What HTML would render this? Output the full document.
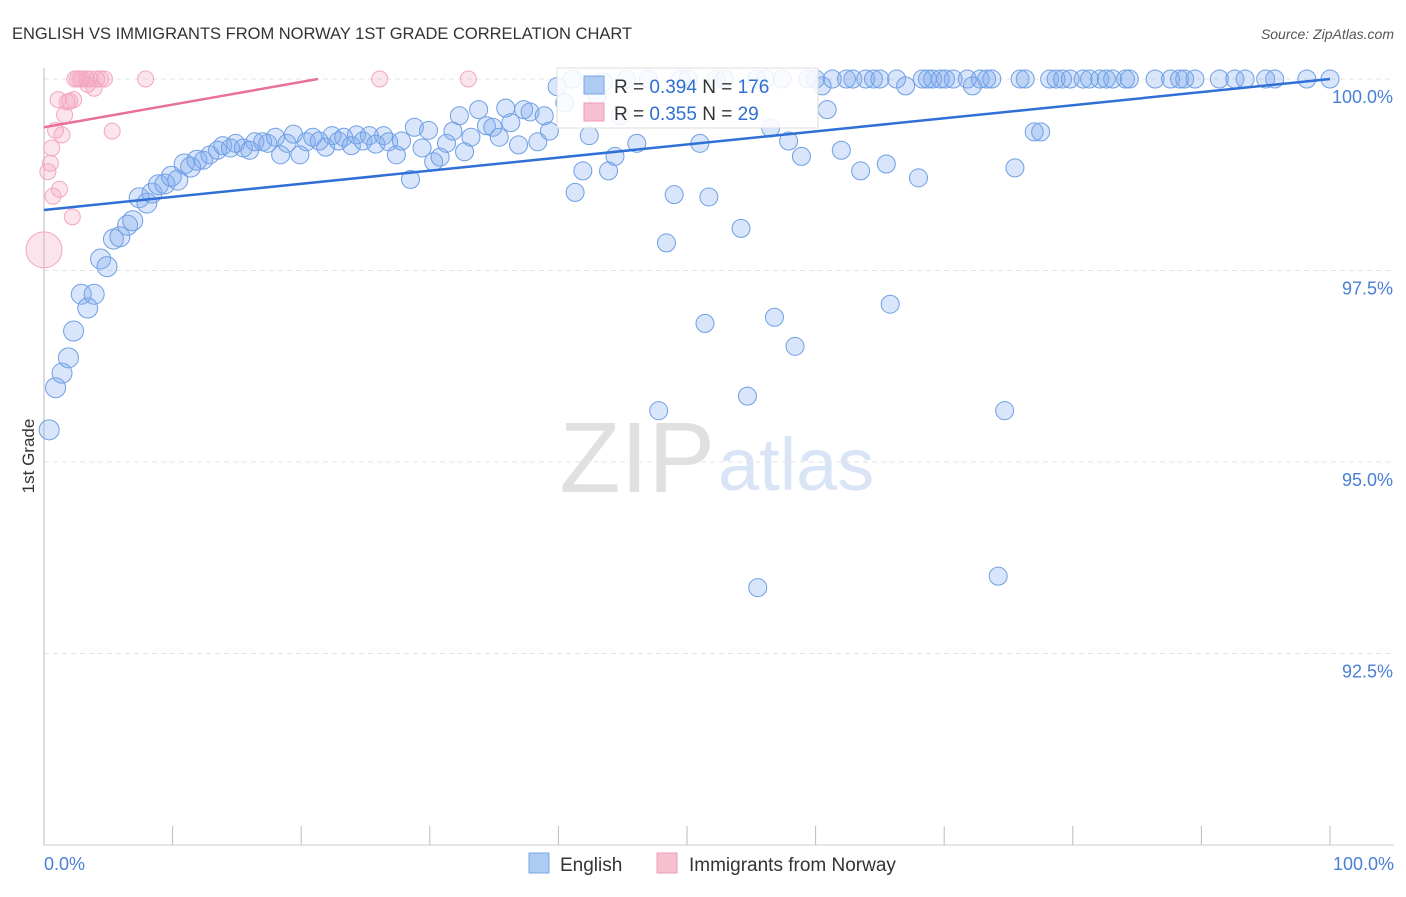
<!DOCTYPE html>
<html><head><meta charset="utf-8"><style>
body{margin:0;background:#fff;font-family:"Liberation Sans",sans-serif;}
svg text{font-family:"Liberation Sans",sans-serif;}
</style></head><body>
<svg id="c" width="1406" height="892">
<text x="12" y="39" font-size="16.5" fill="#333">ENGLISH VS IMMIGRANTS FROM NORWAY 1ST GRADE CORRELATION CHART</text>
<text x="1394" y="39" font-size="14" fill="#555" font-style="italic" text-anchor="end">Source: ZipAtlas.com</text>
<text x="34" y="456" font-size="17" fill="#333" transform="rotate(-90 34 456)" text-anchor="middle">1st Grade</text>
<text x="715" y="492" font-size="100" fill="#e0e0e0" text-anchor="end" font-family="Liberation Serif">ZIP</text>
<text x="718" y="490" font-size="74" fill="#d9e5f6">atlas</text>
<g id="grid"></g><g id="pts"></g><g id="lines"></g>
<g>
<rect x="557" y="68" width="261" height="60" fill="rgba(255,255,255,0.85)" stroke="#ddd"/>
<rect x="584" y="76" width="20" height="18" fill="#aecbf3" stroke="#7aa6e6"/>
<text x="614" y="93" font-size="19" fill="#333">R = <tspan fill="#2f6fd0">0.394</tspan>   N = <tspan fill="#2f6fd0">176</tspan></text>
<rect x="584" y="103" width="20" height="18" fill="#f7c0d0" stroke="#ee9db6"/>
<text x="614" y="120" font-size="19" fill="#333">R = <tspan fill="#2f6fd0">0.355</tspan>   N =  <tspan fill="#2f6fd0">29</tspan></text>
</g>
<g>
<rect x="529" y="853" width="20" height="20" fill="#aecbf3" stroke="#7aa6e6"/>
<text x="560" y="871" font-size="19" fill="#333">English</text>
<rect x="657" y="853" width="20" height="20" fill="#f7c0d0" stroke="#ee9db6"/>
<text x="689" y="871" font-size="19" fill="#333">Immigrants from Norway</text>
</g>
<text x="44" y="870" font-size="18" fill="#4a7fd6">0.0%</text>
<text x="1394" y="870" font-size="18" fill="#4a7fd6" text-anchor="end">100.0%</text>
</svg>
<script>
const blueX=[0.4,0.9,1.4,1.9,2.3,2.9,3.4,3.9,4.4,4.9,5.4,5.9,6.5,6.9,7.4,8.0,8.4,8.9,9.4,9.9,10.4,10.9,11.4,11.9,12.4,12.9,13.5,13.9,14.5,14.9,15.5,16.0,16.4,17.0,17.4,18.0,18.4,18.9,19.4,19.9,20.4,20.9,21.4,21.9,22.4,22.9,23.3,23.9,24.3,24.8,25.3,25.8,26.4,26.8,27.4,27.8,28.5,28.8,29.4,29.9,30.3,30.8,31.3,31.8,32.3,32.7,33.2,33.8,34.4,34.9,35.4,35.9,36.3,36.9,37.3,37.8,38.4,38.9,39.3,39.9,40.5,41.1,41.3,41.9,42.4,43.0,43.5,43.9,44.4,44.8,45.3,46.1,47.0,47.8,48.4,49.0,49.5,50.1,51.0,51.4,51.7,52.3,52.9,54.2,54.7,55.4,55.5,56.1,56.5,56.8,57.4,57.9,58.4,58.9,59.4,60.0,60.5,60.9,61.3,62.0,62.4,62.9,63.5,63.9,64.5,65.0,65.5,65.8,66.3,67.0,68.0,68.3,68.7,69.1,69.7,70.1,70.7,71.8,72.2,72.8,73.3,73.7,74.2,74.7,75.5,75.9,76.3,77.0,77.5,78.2,78.7,79.2,79.8,80.8,81.3,82.1,82.6,83.1,84.1,84.4,86.4,87.6,88.3,88.7,89.5,91.4,92.6,93.4,95.0,95.7,98.2,100];
const blueY=[95.42,95.97,96.16,96.36,96.71,97.19,97.01,97.19,97.65,97.55,97.91,97.94,98.09,98.15,98.45,98.38,98.51,98.62,98.63,98.73,98.68,98.89,98.85,98.94,98.94,99.01,99.07,99.13,99.10,99.16,99.10,99.07,99.18,99.18,99.16,99.24,99.01,99.16,99.28,99.01,99.18,99.24,99.19,99.11,99.26,99.19,99.24,99.13,99.27,99.19,99.26,99.15,99.26,99.18,99.01,99.19,98.69,99.37,99.10,99.33,98.92,98.98,99.16,99.32,99.52,99.05,99.24,99.60,99.39,99.37,99.24,99.62,99.43,99.14,99.60,99.57,99.18,99.52,99.32,99.90,99.69,100,98.52,98.80,99.26,99.79,99.96,98.80,98.99,99.52,100,99.16,100,95.67,97.86,98.49,100,100,99.16,96.81,98.46,100,100,98.05,95.86,100,93.36,100,99.36,96.89,100,99.19,96.51,98.99,100,100,99.91,99.60,100,99.07,100,100,98.80,100,100,100,98.89,97.06,100,99.91,98.71,100,100,100,100,100,100,100,99.91,100,100,100,93.51,95.67,98.84,100,100,99.31,99.31,100,100,100,100,100,100,100,100,100,100,100,100,100,100,100,100,100,100,100,100,100,100,100,100];
const pinkX=[0,0.3,0.5,0.6,0.7,0.9,1.1,1.2,1.4,1.6,1.8,2.0,2.3,2.4,2.6,2.8,3.0,3.3,3.4,3.6,3.9,4.1,4.4,4.7,5.3,2.2,7.9,26.1,33.0];
const pinkY=[97.77,98.79,98.90,99.10,98.47,99.33,99.73,98.56,99.27,99.53,99.70,99.71,99.73,100,100,100,100,100,99.93,100,99.88,100,100,100,99.32,98.20,100,100,100];
const pinkR=[18,8,8,8,8,8,8,8,8,8,8,8,8,8,8,8,8,8,8,8,8,8,8,8,8,8,8,8,8];
const blueTrend=[[0,98.29],[100,100]];
const pinkTrend=[[0,99.37],[21.3,100]];
const yTicks=[100,97.5,95,92.5];
const yTickLabels=["100.0%","97.5%","95.0%","92.5%"];
const xTicks=[0,10,20,30,40,50,60,70,80,90,100];
const sx=v=>44+v*12.86, sy=v=>79+(100-v)*76.6;
const NS="http://www.w3.org/2000/svg";
function mk(tag,attrs,parent){const e=document.createElementNS(NS,tag);for(const k in attrs)e.setAttribute(k,attrs[k]);parent.appendChild(e);return e;}
const g=document.getElementById('grid'),p=document.getElementById('pts'),l=document.getElementById('lines');
yTicks.forEach((t,i)=>{
 const ln=mk('line',{x1:44,x2:1394,y1:sy(t),y2:sy(t),stroke:'#e3e3e3','stroke-dasharray':'5,4'},g);
 
 
 const tx=mk('text',{x:1393,y:sy(t)+24,'font-size':18,fill:'#4a7fd6','text-anchor':'end'},g);
 tx.textContent=yTickLabels[i];
 
 
});
const ax=mk('line',{x1:44,x2:44,y1:68,y2:845,stroke:'#bbb'},g);


const axb=mk('line',{x1:44,x2:1394,y1:845,y2:845,stroke:'#ccc'},g);


xTicks.forEach(t=>{
 const tk=mk('line',{x1:sx(t),x2:sx(t),y1:826,y2:845,stroke:'#bbb'},g);
 
 
});
blueX.forEach((x,i)=>{
 const c=mk('circle',{cx:sx(x),cy:sy(blueY[i]),r:x<12?10:9,fill:'rgba(125,170,238,0.3)',stroke:'#6f9fe4','stroke-width':1},p);
 
 
});
pinkX.forEach((x,i)=>{
 const c=mk('circle',{cx:sx(x),cy:sy(pinkY[i]),r:pinkR[i],fill:'rgba(245,165,195,0.3)',stroke:'#f2a8bf','stroke-width':1},p);
 
 
});
const bt=mk('line',{x1:sx(blueTrend[0][0]),y1:sy(blueTrend[0][1]),x2:sx(blueTrend[1][0]),y2:sy(blueTrend[1][1]),stroke:'#2f6fd6','stroke-width':2.5},l);


const pt=mk('line',{x1:sx(pinkTrend[0][0]),y1:sy(pinkTrend[0][1]),x2:sx(pinkTrend[1][0]),y2:sy(pinkTrend[1][1]),stroke:'#e8709a','stroke-width':2.5},l);


</script>
</body></html>
